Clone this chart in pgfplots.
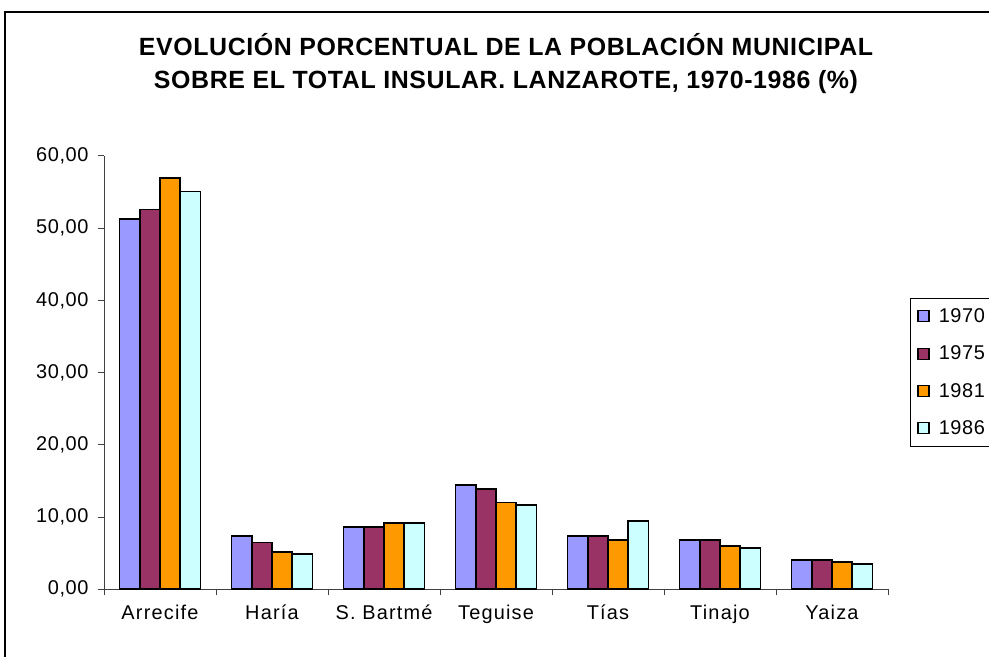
\documentclass[border=0pt]{standalone}
\usepackage{fontspec}
\setmainfont{Liberation Sans}
\newfontfamily\spaced[LetterSpace=6]{Liberation Sans}
\newfontfamily\yspaced[LetterSpace=3]{Liberation Sans}
\newfontfamily\titlefont[LetterSpace=2.5]{Liberation Sans}
\usepackage{pgfplots}
\pgfplotsset{compat=1.18}
\definecolor{c70}{HTML}{9999FF}
\definecolor{c75}{HTML}{993366}
\definecolor{c81}{HTML}{FF9900}
\definecolor{c86}{HTML}{CCFFFF}
\definecolor{axgray}{HTML}{404040}
\begin{document}
\begin{tikzpicture}
\useasboundingbox (0,0) rectangle (989bp,657bp);
\clip (0,0) rectangle (989bp,657bp);
\draw[black, line width=1.5bp] (5bp,0bp) -- (5bp,645bp) -- (989bp,645bp);
\node[anchor=base, font=\titlefont\bfseries\fontsize{25}{29}\selectfont] at (506bp,601.3bp) {EVOLUCIÓN PORCENTUAL DE LA POBLACIÓN MUNICIPAL};
\node[anchor=base, font=\titlefont\bfseries\fontsize{25}{29}\selectfont] at (506bp,568.7bp) {SOBRE EL TOTAL INSULAR. LANZAROTE, 1970-1986 (\%)};
\begin{axis}[
  at={(104bp,67.7bp)}, anchor=south west,
  scale only axis, width=784bp, height=433.3bp,
  xmin=-0.5, xmax=6.5, ymin=0, ymax=60,
  axis lines*=left,
  axis line style={axgray, line width=1bp},
  ybar=0pt, bar width=20.25bp,
  xtick={-0.5,0.5,1.5,2.5,3.5,4.5,5.5,6.5},
  xticklabels={},
  extra x ticks={0,1,2,3,4,5,6},
  extra x tick labels={Arrecife, Haría, S. Bartmé, Teguise, Tías, Tinajo, Yaiza},
  extra x tick style={tick style={draw=none}},
  ytick={0,10,20,30,40,50,60},
  tick align=outside,
  major tick length=6bp,
  tick style={axgray, line width=1bp},
  /pgf/number format/.cd, fixed, fixed zerofill, precision=2, use comma, assume math mode=true,
  /pgfplots/.cd,
  yticklabel style={font=\yspaced\fontsize{20}{24}\selectfont, xshift=-6bp},
  xticklabel style={font=\spaced\fontsize{20}{24}\selectfont, yshift=-6bp},
  legend style={at={(1.028,0.672)}, anchor=north west, draw=black, line width=0.8bp,
    font=\yspaced\fontsize{20}{24}\selectfont, row sep=18bp, inner xsep=7bp, inner ysep=8bp},
  legend cell align=left,
  legend image code/.code={\draw[#1, line width=1.2bp] (0bp,-5.5bp) rectangle (11bp,5.5bp); \path (18bp,0bp);},
  every axis plot/.append style={draw=black, line width=1.7bp},
]
\addplot[fill=c70] coordinates {(0,51.25) (1,7.38) (2,8.67) (3,14.45) (4,7.38) (5,6.78) (6,4.06)};
\addplot[fill=c75] coordinates {(0,52.6) (1,6.5) (2,8.67) (3,13.9) (4,7.38) (5,6.78) (6,4.06)};
\addplot[fill=c81] coordinates {(0,57.0) (1,5.12) (2,9.22) (3,12.0) (4,6.83) (5,6.0) (6,3.78)};
\addplot[fill=c86] coordinates {(0,55.07) (1,4.89) (2,9.22) (3,11.7) (4,9.5) (5,5.72) (6,3.5)};
\legend{1970,1975,1981,1986}
\end{axis}
\end{tikzpicture}
\end{document}
